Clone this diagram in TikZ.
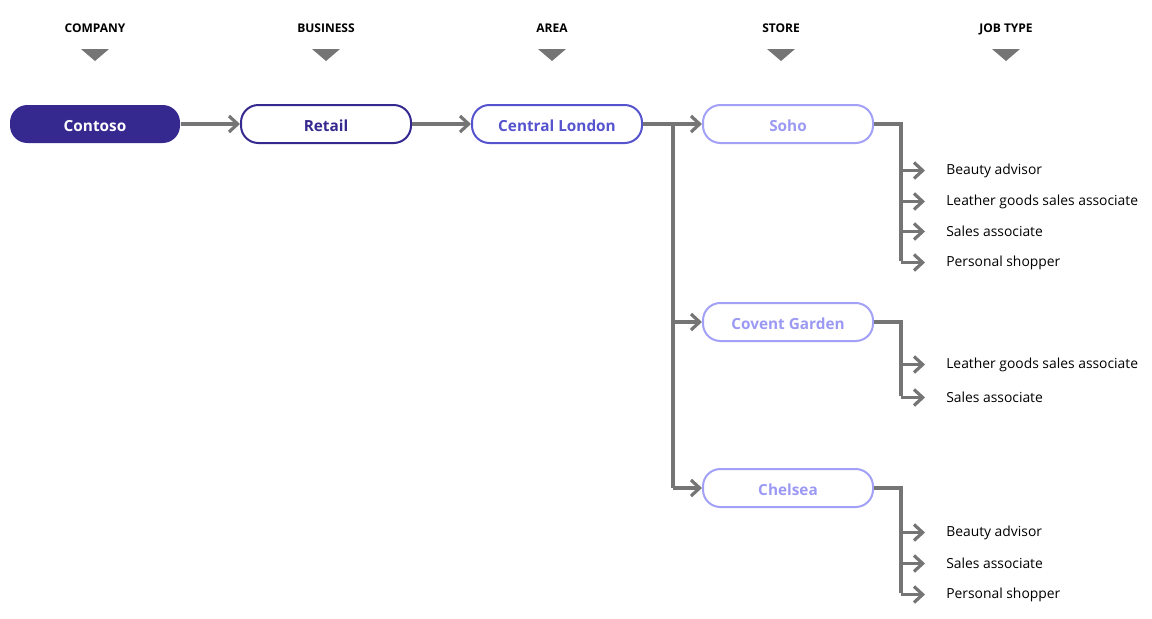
\documentclass[tikz,border=0pt]{standalone}
\usepackage{fontspec}
\setmainfont{Open Sans}
\usetikzlibrary{arrows.meta, positioning, calc}
\definecolor{inkdark}{HTML}{35298F}
\definecolor{inkmid}{HTML}{5553CE}
\definecolor{inklight}{HTML}{A2A1F7}
\definecolor{textlight}{HTML}{9B99F3}
\definecolor{linegray}{HTML}{757575}
\tikzset{
  level/.style={rounded corners=13pt, line width=1.5pt, minimum width=127.5pt,
                minimum height=28.5pt, font=\bfseries\fontsize{11.5}{13}\selectfont,
                inner sep=0pt, text height=10.6pt, text depth=0pt},
  head/.style={anchor=base, font=\bfseries\fontsize{9}{10}\selectfont, inner sep=0pt},
  job/.style={anchor=west, inner xsep=15.75pt, inner ysep=0pt,
              font=\fontsize{10.4}{12}\selectfont},
  link/.style={line width=2.4pt, draw=linegray},
  flow/.style={link, -{Straight Barb[length=6.5pt, width=12pt]}},
}

\begin{document}
\begin{tikzpicture}[x=0.75pt, y=-0.75pt]
  \useasboundingbox (0,0) rectangle (1152,618);
  % column headers
  \foreach \x/\lbl in {95/COMPANY, 326/BUSINESS, 552/AREA, 781/STORE, 1006/JOB TYPE}{
    \node[head] (h\x) at (\x,32) {\lbl};
    \fill[linegray] (\x-14,49) -- (\x+14,49) -- (\x,61) -- cycle;
  }
  % hierarchy
  \node[level, fill=inkdark, text=white] (contoso) at (95,124) {Contoso};
  \node[level, draw=inkdark, text=inkdark] (retail) at (326,124) {Retail};
  \node[level, draw=inkmid, text=inkmid] (central) at (557,124) {Central London};
  \node[level, draw=inklight, text=textlight] (soho) at (788,124) {Soho};
  \node[level, draw=inklight, text=textlight] (covent) at (788,322) {Covent Garden};
  \node[level, draw=inklight, text=textlight] (chelsea) at (788,488) {Chelsea};
  \draw[flow] (contoso) -- (retail);
  \draw[flow] (retail) -- (central);
  % area to stores
  \coordinate (areabus) at (673,124);
  \draw[link] (central.east) -- (areabus) -- (areabus |- chelsea.west);
  \draw[flow] (areabus) -- (soho);
  \draw[flow] (areabus |- covent.west) -- (covent);
  \draw[flow] (areabus |- chelsea.west) -- (chelsea);
  % stores to job types
  \foreach \store/\ylast/\jobs in {%
      soho/261/{169/Beauty advisor, 200/Leather goods sales associate, 230/Sales associate, 261/Personal shopper},
      covent/396/{363/Leather goods sales associate, 396/Sales associate},
      chelsea/593/{531/Beauty advisor, 562/Sales associate, 593/Personal shopper}}{
    \coordinate (\store bus) at ($(\store.east)+(27,0)$);
    \draw[link] (\store.east) -- (\store bus) -- (\store bus |- 0,\ylast);
    \foreach \y/\lbl [count=\i] in \jobs{
      \node[job] (\store\i) at (925,\y+1.5) {\lbl};
      \draw[flow] (\store bus |- \store\i.west) -- (\store\i.west);
    }
  }
\end{tikzpicture}
\end{document}
